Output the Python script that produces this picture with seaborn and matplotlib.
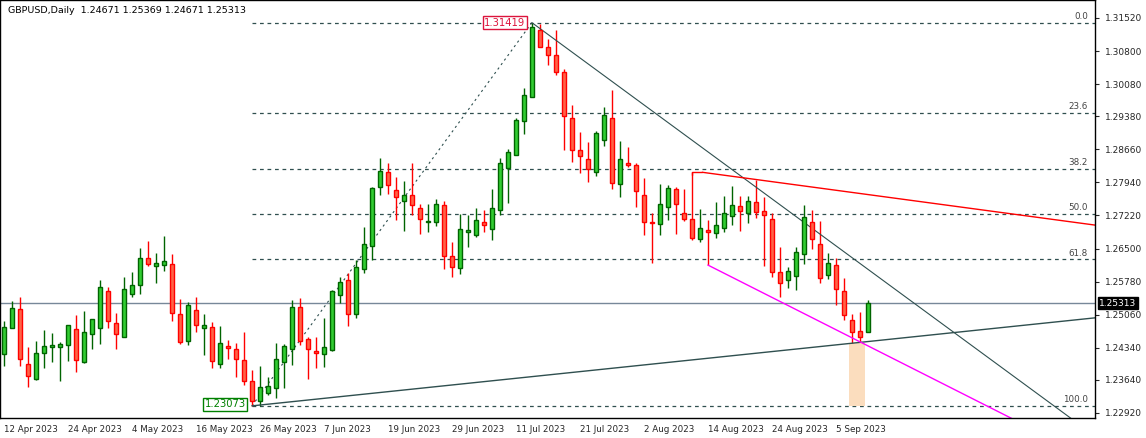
import matplotlib.pyplot as plt
import seaborn as sns
import numpy as np
import pandas as pd
from matplotlib.patches import Rectangle

# GBPUSD daily candles
opens = [1.2420, 1.2476, 1.2519, 1.2398, 1.2365, 1.2422, 1.2435, 1.2435, 1.2439, 1.2474,
         1.2402, 1.2463, 1.2476, 1.2558, 1.2487, 1.2458, 1.2550, 1.2570, 1.2629, 1.2611,
         1.2614, 1.2616, 1.2507, 1.2448, 1.2516, 1.2476, 1.2479, 1.2398, 1.2438, 1.2431,
         1.2408, 1.2361, 1.2317, 1.2335, 1.2346, 1.2402, 1.2431, 1.2522, 1.2452, 1.2426,
         1.2420, 1.2428, 1.2548, 1.2581, 1.2507, 1.2605, 1.2655, 1.2785, 1.2816, 1.2777,
         1.2753, 1.2766, 1.2738, 1.2708, 1.2707, 1.2744, 1.2633, 1.2607, 1.2686, 1.2679,
         1.2707, 1.2692, 1.2733, 1.2825, 1.2853, 1.2927, 1.2981, 1.3125, 1.3088, 1.3071,
         1.3034, 1.2934, 1.2864, 1.2844, 1.2816, 1.2886, 1.2934, 1.2790, 1.2836, 1.2831,
         1.2766, 1.2707, 1.2703, 1.2740, 1.2779, 1.2727, 1.2714, 1.2670, 1.2690, 1.2683,
         1.2694, 1.2720, 1.2742, 1.2727, 1.2751, 1.2731, 1.2714, 1.2598, 1.2581, 1.2590,
         1.2638, 1.2707, 1.2659, 1.2592, 1.2614, 1.2557, 1.2494, 1.2470, 1.24671]
highs = [1.2492, 1.2536, 1.2545, 1.2436, 1.2449, 1.2473, 1.2466, 1.2447, 1.2483, 1.2505,
         1.2514, 1.2497, 1.2582, 1.2566, 1.2510, 1.2588, 1.2598, 1.2651, 1.2666, 1.2640,
         1.2677, 1.2638, 1.2539, 1.2534, 1.2545, 1.2508, 1.2490, 1.2481, 1.2451, 1.2444,
         1.2469, 1.2386, 1.2394, 1.2370, 1.2444, 1.2442, 1.2538, 1.2542, 1.2457, 1.2457,
         1.2498, 1.2560, 1.2589, 1.2596, 1.2624, 1.2696, 1.2783, 1.2847, 1.2836, 1.2805,
         1.2798, 1.2836, 1.2747, 1.2747, 1.2757, 1.2753, 1.2664, 1.2725, 1.2723, 1.2738,
         1.2733, 1.2779, 1.2847, 1.2866, 1.2934, 1.2999, 1.31419, 1.3140, 1.3106, 1.3125,
         1.3040, 1.2962, 1.2903, 1.2881, 1.2905, 1.2958, 1.2995, 1.2884, 1.2870, 1.2837,
         1.2803, 1.2727, 1.2790, 1.2788, 1.2783, 1.2779, 1.2816, 1.2736, 1.2712, 1.2751,
         1.2764, 1.2786, 1.2765, 1.2765, 1.2799, 1.2763, 1.2727, 1.2653, 1.2609, 1.2653,
         1.2744, 1.2733, 1.2709, 1.2640, 1.2629, 1.2585, 1.2508, 1.2511, 1.25369]
lows = [1.2395, 1.2476, 1.2395, 1.2349, 1.2363, 1.2389, 1.2402, 1.2362, 1.2406, 1.2382,
        1.2400, 1.2432, 1.2443, 1.2476, 1.2432, 1.2458, 1.2545, 1.2552, 1.2611, 1.2574,
        1.2601, 1.2493, 1.2442, 1.2439, 1.2468, 1.2417, 1.2389, 1.2389, 1.2410, 1.2370,
        1.2353, 1.23073, 1.2306, 1.2331, 1.2324, 1.2346, 1.2397, 1.2440, 1.2365, 1.2389,
        1.2391, 1.2426, 1.2531, 1.2482, 1.2498, 1.2596, 1.2625, 1.2766, 1.2768, 1.2712,
        1.2689, 1.2722, 1.2681, 1.2685, 1.2698, 1.2605, 1.2587, 1.2595, 1.2654, 1.2676,
        1.2685, 1.2669, 1.2724, 1.2749, 1.2853, 1.2900, 1.2979, 1.3088, 1.3049, 1.3027,
        1.2864, 1.2838, 1.2814, 1.2794, 1.2808, 1.2873, 1.2779, 1.2762, 1.2827, 1.2740,
        1.2679, 1.2618, 1.2679, 1.2712, 1.2681, 1.2709, 1.2668, 1.2664, 1.2614, 1.2672,
        1.2685, 1.2701, 1.2688, 1.2706, 1.2716, 1.2611, 1.2588, 1.2545, 1.2563, 1.2559,
        1.2616, 1.2650, 1.2574, 1.2583, 1.2527, 1.2494, 1.2444, 1.2446, 1.24671]
closes = [1.2480, 1.2520, 1.2410, 1.2372, 1.2422, 1.2438, 1.2440, 1.2442, 1.2483, 1.2407,
          1.2468, 1.2497, 1.2566, 1.2492, 1.2463, 1.2561, 1.2570, 1.2629, 1.2616, 1.2618,
          1.2622, 1.2509, 1.2446, 1.2527, 1.2483, 1.2483, 1.2404, 1.2444, 1.2433, 1.2410,
          1.2361, 1.2317, 1.2348, 1.2350, 1.2409, 1.2437, 1.2522, 1.2448, 1.2432, 1.2422,
          1.2435, 1.2557, 1.2577, 1.2507, 1.2609, 1.2659, 1.2781, 1.2818, 1.2788, 1.2762,
          1.2766, 1.2744, 1.2714, 1.2710, 1.2746, 1.2633, 1.2609, 1.2692, 1.2690, 1.2712,
          1.2701, 1.2738, 1.2836, 1.2860, 1.2929, 1.2984, 1.3132, 1.3088, 1.3071, 1.3034,
          1.2938, 1.2864, 1.2851, 1.2823, 1.2901, 1.2940, 1.2792, 1.2844, 1.2831, 1.2775,
          1.2707, 1.2706, 1.2746, 1.2781, 1.2746, 1.2715, 1.2672, 1.2694, 1.2685, 1.2701,
          1.2727, 1.2744, 1.2731, 1.2753, 1.2729, 1.2722, 1.2598, 1.2574, 1.2601, 1.2642,
          1.2718, 1.2670, 1.2585, 1.2618, 1.2561, 1.2505, 1.2468, 1.2457, 1.25313]

price_ticks = [1.31520, 1.30800, 1.30080, 1.29380, 1.28660, 1.27940, 1.27220,
               1.26500, 1.25780, 1.25060, 1.24340, 1.23640, 1.22920]
fib_ratios = [0.0, 23.6, 38.2, 50.0, 61.8, 100.0]
fib_high, fib_low = 1.31419, 1.23073
last_price = 1.25313

dates = pd.bdate_range("2023-04-12", periods=len(opens))
df = pd.DataFrame({"date": dates, "open": opens, "high": highs, "low": lows, "close": closes})
df["idx"] = np.arange(len(df))

sns.set_style("white")
plt.rcParams["font.family"] = ["DejaVu Sans"]

fig = plt.figure(figsize=(11.46, 4.38), dpi=100)
ax = fig.add_axes([0.0, 0.046, 1095 / 1146, 0.954])

xmax = 136.4
ax.set_xlim(-0.5, xmax)
ax.set_ylim(1.22812, 1.31912)

up = df["close"] >= df["open"]
GREEN_FILL, GREEN_EDGE = "#32CD32", "#006400"
RED_FILL, RED_EDGE = "#FF6347", "#FF0000"

# fib levels
i_low, i_high = 31, 66
for r in fib_ratios:
    p = fib_high - r / 100 * (fib_high - fib_low)
    ax.plot([i_low, xmax], [p, p], ls=(0, (3, 3)), color="#2F4F4F", lw=0.9, zorder=1)
    ax.text(135.5, p + 0.0004, f"{r:.1f}", ha="right", va="bottom", fontsize=6.3, color="#444444")
ax.plot([i_low, i_high], [fib_low, fib_high], ls=(0, (2, 3)), color="#2F4F4F", lw=0.8, zorder=1)

# current price line
ax.axhline(last_price, color="#778899", lw=1, zorder=1)

# wicks and bodies
for color, mask in [(GREEN_EDGE, up), (RED_EDGE, ~up)]:
    d = df[mask]
    ax.vlines(d["idx"], d["low"], d["high"], color=color, lw=1, zorder=2)
for _, row in df.iterrows():
    is_up = row["close"] >= row["open"]
    lo, hi = sorted([row["open"], row["close"]])
    ax.add_patch(Rectangle((row["idx"] - 0.28, lo), 0.56, max(hi - lo, 0.00012),
                           facecolor=GREEN_FILL if is_up else RED_FILL,
                           edgecolor=GREEN_EDGE if is_up else RED_EDGE, lw=1, zorder=3))

# trend lines
def extend(x0, y0, x1, y1, xe):
    return [x0, xe], [y0, y0 + (y1 - y0) * (xe - x0) / (x1 - x0)]

ax.plot(*extend(i_high, fib_high, 134.5, 1.2266, 134.5), color="#2F4F4F", lw=0.8, zorder=2)
ax.plot(*extend(31, fib_low, xmax, 1.2499, xmax), color="#2F4F4F", lw=1, zorder=2)
ax.plot([86, 86, 87.3], [highs[86] - 0.0005, highs[86], highs[86]], color="red", lw=1, zorder=2)
ax.plot(*extend(87.3, highs[86], xmax, 1.2701, xmax), color="red", lw=1, zorder=2)
ax.plot(*extend(88, lows[88], 130.75, 1.2238, xmax), color="magenta", lw=1, zorder=2)

# highlighted zone
ax.add_patch(Rectangle((105.6, fib_low), 2.0, lows[106] - fib_low,
                       facecolor="#FBDDBE", edgecolor="none", zorder=1))

# high / low labels
ax.text(i_high - 0.8, fib_high, "1.31419", ha="right", va="center", fontsize=7.2, color="#DC143C",
        bbox=dict(boxstyle="square,pad=0.15", fc="white", ec="#DC143C", lw=1))
ax.text(i_low - 0.8, fib_low + 0.0003, "1.23073", ha="right", va="center", fontsize=7.2, color="#008000",
        bbox=dict(boxstyle="square,pad=0.15", fc="white", ec="#008000", lw=1))

# header
ax.text(0.5, 1.3168, "GBPUSD,Daily  1.24671 1.25369 1.24671 1.25313", fontsize=6.8, color="black", va="center")

# axes
ax.yaxis.tick_right()
ax.set_yticks(price_ticks)
ax.set_yticklabels([f"{p:.5f}" for p in price_ticks], fontsize=6.5)
ax.tick_params(axis="y", length=3, pad=4)
ax.text(1.004, last_price, f"{last_price:.5f}", transform=ax.get_yaxis_transform(), ha="left", va="center",
        fontsize=6.5, color="white", bbox=dict(boxstyle="square,pad=0.2", fc="black", ec="black"))

tick_idx = list(range(0, len(df), 8))
ax.set_xticks(tick_idx)
ax.set_xticklabels([f"{dates[i].day} {dates[i].strftime('%b %Y')}" for i in tick_idx],
                   fontsize=6.3, ha="left")
ax.tick_params(axis="x", length=3, pad=2)
for s in ax.spines.values():
    s.set_color("black")
    s.set_linewidth(1)

fig.savefig("out.png", dpi=100)
